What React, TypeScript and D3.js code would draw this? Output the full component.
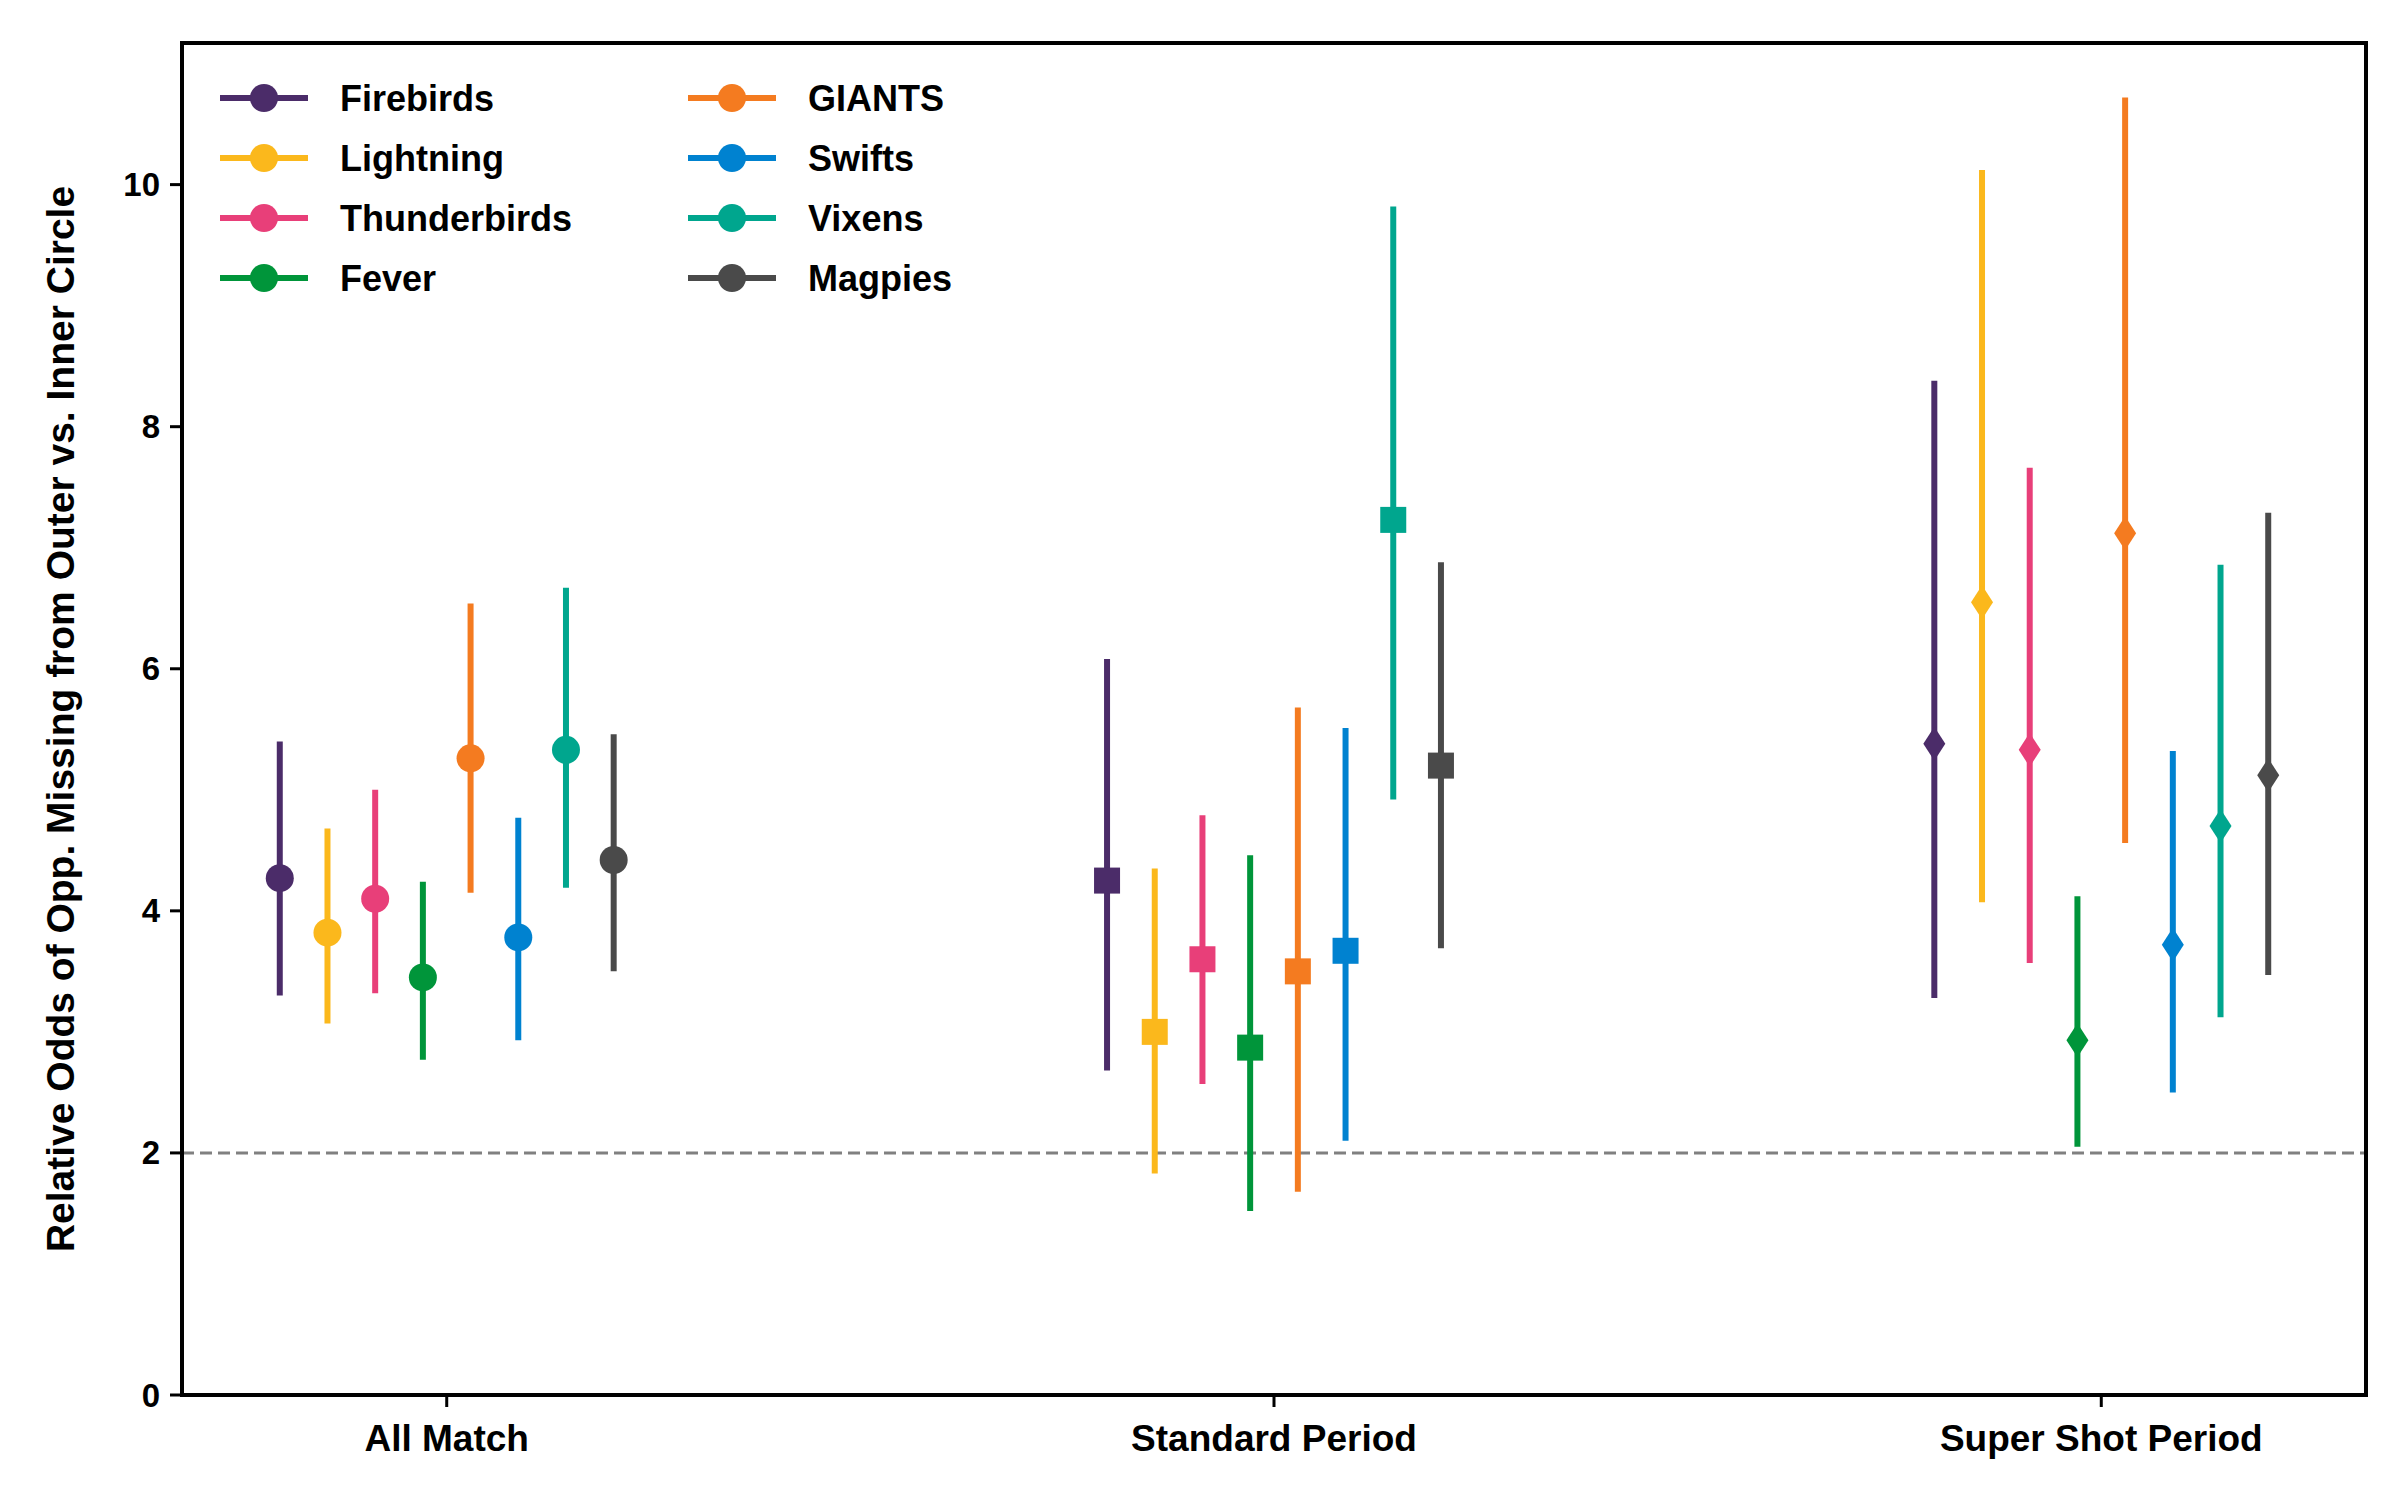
import * as d3 from "d3"

const periods = ["All Match", "Standard Period", "Super Shot Period"]
const teams = ["Firebirds", "Lightning", "Thunderbirds", "Fever", "GIANTS", "Swifts", "Vixens", "Magpies"]
const colors = ["#4b2c69", "#fbb81c", "#e83f79", "#00953a", "#f47b20", "#0082d0", "#00a68e", "#4a4a4a"]

// per period: estimate, low, high for each team
const estAll = [4.27, 3.82, 4.1, 3.45, 5.26, 3.78, 5.33, 4.42]
const lowAll = [3.3, 3.07, 3.32, 2.77, 4.15, 2.93, 4.19, 3.5]
const highAll = [5.4, 4.68, 5.0, 4.24, 6.54, 4.77, 6.67, 5.46]
const estStd = [4.25, 3.0, 3.6, 2.87, 3.5, 3.67, 7.23, 5.2]
const lowStd = [2.68, 1.83, 2.57, 1.52, 1.68, 2.1, 4.92, 3.69]
const highStd = [6.08, 4.35, 4.79, 4.46, 5.68, 5.51, 9.82, 6.88]
const estSup = [5.38, 6.55, 5.33, 2.93, 7.12, 3.72, 4.7, 5.12]
const lowSup = [3.28, 4.07, 3.57, 2.05, 4.56, 2.5, 3.12, 3.47]
const highSup = [8.38, 10.12, 7.66, 4.12, 10.72, 5.32, 6.86, 7.29]
const yTicks = [0, 2, 4, 6, 8, 10]
const refLine = 2

const W = 2400, H = 1500
const m = { left: 182, right: 2366, top: 43, bottom: 1395 }
const font = "'Liberation Sans', Arial, sans-serif"

export default function App() {
  const x = d3.scalePoint<string>().domain(periods).range([m.left, m.right]).padding(0.32)
  const y = d3.scaleLinear().domain([0, 11.17]).range([m.bottom, m.top])
  const off = d3.scalePoint<string>().domain(teams).range([-3.5 * 47.7, 3.5 * 47.7])
  const est = [estAll, estStd, estSup]
  const low = [lowAll, lowStd, lowSup]
  const high = [highAll, highStd, highSup]

  const marker = (p: number, cx: number, cy: number, c: string) => {
    if (p === 0) return <circle cx={cx} cy={cy} r={14} fill={c} />
    if (p === 1) return <rect x={cx - 13} y={cy - 13} width={26} height={26} fill={c} />
    return <path d={`M${cx},${cy - 17}L${cx + 11},${cy}L${cx},${cy + 17}L${cx - 11},${cy}Z`} fill={c} />
  }

  return (
    <div style={{ position: "absolute", left: 0, top: 0 }}>
      <svg width={W} height={H} style={{ display: "block", fontFamily: font }}>
        <rect width={W} height={H} fill="#fff" />
        <line x1={m.left} x2={m.right} y1={y(refLine)} y2={y(refLine)} stroke="#808080" strokeWidth={3} strokeDasharray="12,6" />
        {periods.map((p, pi) =>
          teams.map((t, ti) => {
            const cx = x(p)! + off(t)!
            return (
              <g key={p + t}>
                <line x1={cx} x2={cx} y1={y(low[pi][ti])} y2={y(high[pi][ti])} stroke={colors[ti]} strokeWidth={6} />
                {marker(pi, cx, y(est[pi][ti]), colors[ti])}
              </g>
            )
          })
        )}
        <rect x={m.left} y={m.top} width={m.right - m.left} height={m.bottom - m.top} fill="none" stroke="#000" strokeWidth={4} />
        {yTicks.map(v => (
          <g key={v}>
            <line x1={m.left - 12} x2={m.left} y1={y(v)} y2={y(v)} stroke="#000" strokeWidth={3} />
            <text x={m.left - 22} y={y(v)} dy="0.35em" textAnchor="end" fontSize={33} fontWeight="bold">{v}</text>
          </g>
        ))}
        {periods.map(p => (
          <g key={p}>
            <line x1={x(p)} x2={x(p)} y1={m.bottom} y2={m.bottom + 12} stroke="#000" strokeWidth={3} />
            <text x={x(p)} y={m.bottom + 56} textAnchor="middle" fontSize={37} fontWeight="bold">{p}</text>
          </g>
        ))}
        <text transform={`translate(74,${(m.top + m.bottom) / 2}) rotate(-90)`} textAnchor="middle" fontSize={39} fontWeight="bold">
          Relative Odds of Opp. Missing from Outer vs. Inner Circle
        </text>
        {teams.map((t, i) => {
          const col = Math.floor(i / 4), row = i % 4
          const lx = 220 + col * 468, ly = 98 + row * 60
          return (
            <g key={t}>
              <line x1={lx} x2={lx + 88} y1={ly} y2={ly} stroke={colors[i]} strokeWidth={6} />
              <circle cx={lx + 44} cy={ly} r={14} fill={colors[i]} />
              <text x={lx + 120} y={ly} dy="0.35em" fontSize={36} fontWeight="bold">{t}</text>
            </g>
          )
        })}
      </svg>
    </div>
  )
}
